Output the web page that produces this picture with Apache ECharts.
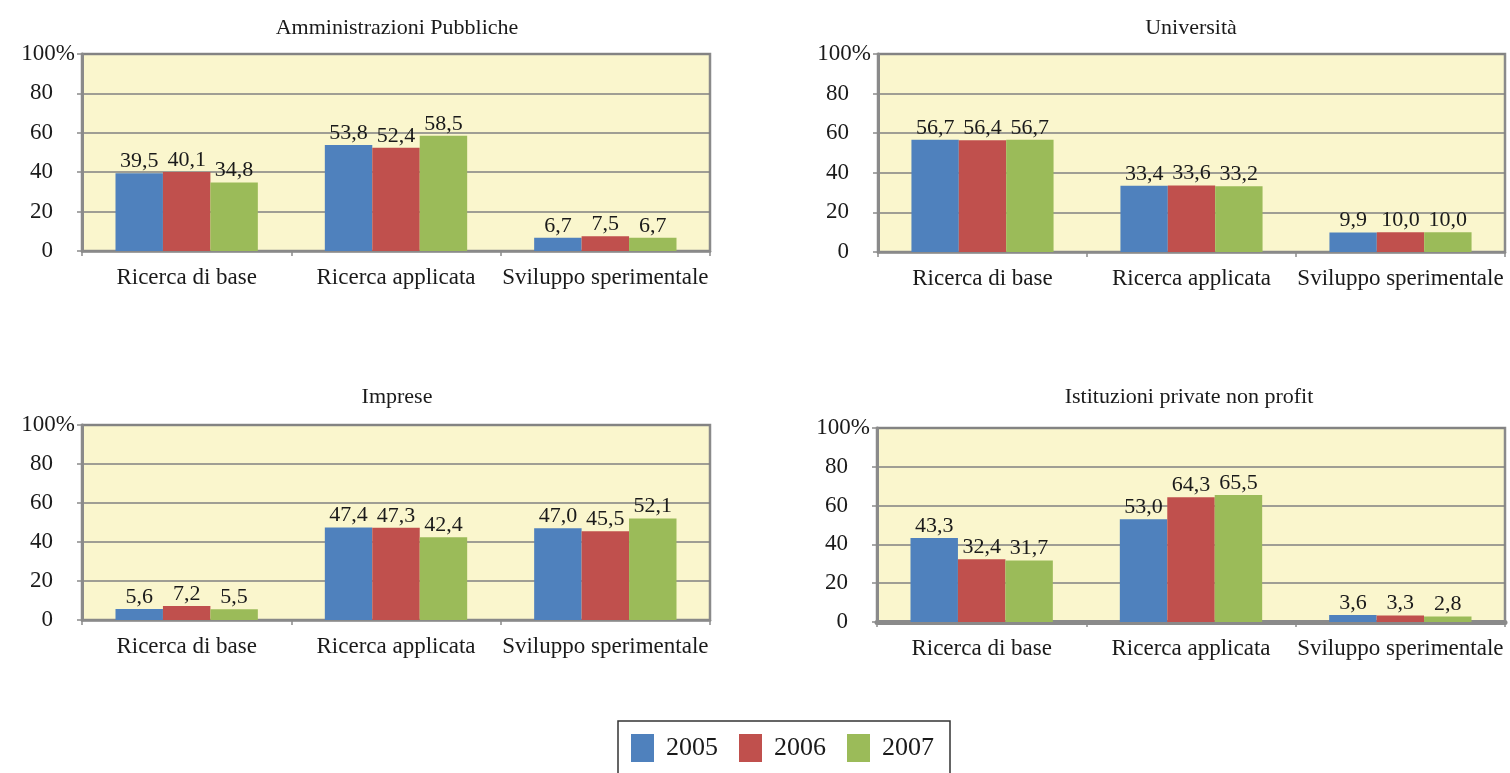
<!DOCTYPE html>
<html>
<head>
<meta charset="utf-8">
<script src="https://cdn.jsdelivr.net/npm/echarts@6/dist/echarts.min.js"></script>
<style>
html,body{margin:0;padding:0;background:#fff;}
#chart{width:1510px;height:773px;}
</style>
</head>
<body>
<div id="chart"></div>
<script>
var categories = ['Ricerca di base', 'Ricerca applicata', 'Sviluppo sperimentale'];
var years = ['2005', '2006', '2007'];
var panelTitles = ['Amministrazioni Pubbliche', 'Università', 'Imprese', 'Istituzioni private non profit'];
var yTicks = [0, 20, 40, 60, 80, 100];

// values per panel, per year
var ammPubbliche2005 = [39.5, 53.8, 6.7];
var ammPubbliche2006 = [40.1, 52.4, 7.5];
var ammPubbliche2007 = [34.8, 58.5, 6.7];
var universita2005 = [56.7, 33.4, 9.9];
var universita2006 = [56.4, 33.6, 10.0];
var universita2007 = [56.7, 33.2, 10.0];
var imprese2005 = [5.6, 47.4, 47.0];
var imprese2006 = [7.2, 47.3, 45.5];
var imprese2007 = [5.5, 42.4, 52.1];
var nonProfit2005 = [43.3, 53.0, 3.6];
var nonProfit2006 = [32.4, 64.3, 3.3];
var nonProfit2007 = [31.7, 65.5, 2.8];

var panelData = [
  [ammPubbliche2005, ammPubbliche2006, ammPubbliche2007],
  [universita2005, universita2006, universita2007],
  [imprese2005, imprese2006, imprese2007],
  [nonProfit2005, nonProfit2006, nonProfit2007]
];

var colors = ['#4F81BD', '#C0504D', '#9BBB59'];
var FONT = '"Liberation Serif", "Times New Roman", serif';

var grids = [
  {left: 82, top: 54, width: 628, height: 197},
  {left: 878, top: 54, width: 627, height: 198},
  {left: 82, top: 425, width: 628, height: 195},
  {left: 877, top: 428, width: 628, height: 194}
];
var titlePos = [
  {x: 397, y: 17},
  {x: 1191, y: 17},
  {x: 397, y: 386},
  {x: 1189, y: 386}
];

var option = {
  animation: false,
  backgroundColor: '#ffffff',
  textStyle: {fontFamily: FONT},
  title: panelTitles.map(function (t, i) {
    return {
      text: t, left: titlePos[i].x, top: titlePos[i].y, textAlign: 'center', padding: 0,
      textStyle: {fontFamily: FONT, fontSize: 22, fontWeight: 'normal', color: '#1a1a1a'}
    };
  }),
  legend: {
    data: years,
    left: 618, top: 721,
    padding: [13, 16, 30, 13],
    itemWidth: 23, itemHeight: 28, itemGap: 21,
    borderColor: '#333', borderWidth: 1.5,
    icon: 'rect',
    textStyle: {fontFamily: FONT, fontSize: 26, color: '#1a1a1a', padding: [0, 0, 0, 7]}
  },
  grid: grids.map(function (g) {
    return {left: g.left, top: g.top, width: g.width, height: g.height,
      show: true, backgroundColor: '#FAF6CD', borderColor: '#8a8a8a', borderWidth: 2.5};
  }),
  xAxis: grids.map(function (g, i) {
    return {
      type: 'category', gridIndex: i, data: categories,
      axisLine: {show: true, lineStyle: {color: '#8a8a8a', width: i === 3 ? 5 : 2.5}},
      axisTick: {show: true, length: 5, alignWithLabel: false, lineStyle: {color: '#8a8a8a', width: 1.5}},
      axisLabel: {margin: 15, fontFamily: FONT, fontSize: 23, color: '#1a1a1a', interval: 0}
    };
  }),
  yAxis: grids.map(function (g, i) {
    return {
      type: 'value', gridIndex: i, min: 0, max: 100, interval: 20,
      axisLine: {show: true, lineStyle: {color: '#8a8a8a', width: 3}},
      axisTick: {show: true, length: 5, lineStyle: {color: '#8a8a8a', width: 1.5}},
      splitLine: {show: true, lineStyle: {color: '#808080', width: 1.5}},
      axisLabel: {
        margin: 7, fontFamily: FONT, fontSize: 23, color: '#1a1a1a',
        formatter: function (v) { return v === 100 ? '{p|100%}' : '{n|' + v + '}'; },
        rich: {
          p: {fontFamily: FONT, fontSize: 23, color: '#1a1a1a'},
          n: {fontFamily: FONT, fontSize: 23, color: '#1a1a1a', padding: [0, 22, 0, 0]}
        }
      }
    };
  }),
  series: []
};

panelData.forEach(function (panel, p) {
  panel.forEach(function (vals, y) {
    option.series.push({
      type: 'bar', name: years[y], xAxisIndex: p, yAxisIndex: p,
      data: vals, barGap: '0%', barCategoryGap: '32%',
      itemStyle: {color: colors[y]},
      label: {
        show: true, position: 'top', distance: 1,
        fontFamily: FONT, fontSize: 22, color: '#1a1a1a',
        formatter: function (d) { return d.value.toFixed(1).replace('.', ','); }
      }
    });
  });
});

var chart = echarts.init(document.getElementById('chart'), null, {renderer: 'canvas'});
chart.setOption(option);
</script>
</body>
</html>
